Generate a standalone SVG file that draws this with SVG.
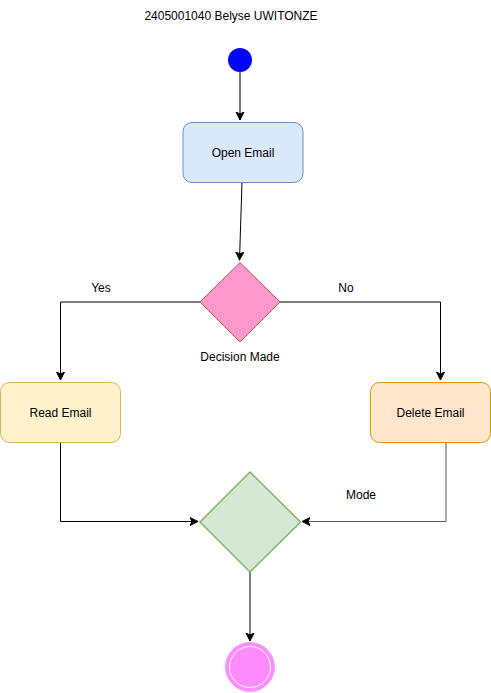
<svg xmlns="http://www.w3.org/2000/svg" width="491" height="693" viewBox="0 0 491 693">
<style>
text{font-family:"Liberation Sans",Arial,sans-serif;font-size:12px;fill:#000;}
.c{fill:none;stroke:#000;stroke-width:1;}
</style>
<defs>
<marker id="ah" markerWidth="10" markerHeight="10" refX="8" refY="5" orient="auto" markerUnits="userSpaceOnUse">
<path d="M0,1 L8,5 L0,9 L2,5 Z" fill="#000" stroke="#000" stroke-width="1"/>
</marker>
</defs>
<rect width="491" height="693" fill="#fff"/>
<g id="title"><text x="231" y="20" text-anchor="middle">2405001040 Belyse UWITONZE</text></g>
<g id="connectors">
<path class="c" d="M240,72 L240,120" marker-end="url(#ah)"/>
<path class="c" d="M242,182 L239.5,260" marker-end="url(#ah)"/>
<path class="c" d="M200,302 L60.5,302 L60.5,380" marker-end="url(#ah)"/>
<path class="c" d="M280,302 L440.5,302 L440.5,380" marker-end="url(#ah)"/>
<path class="c" d="M60.5,442 L60.5,521.5 L198,521.5" marker-end="url(#ah)"/>
<path class="c" style="stroke:#555" d="M446,442 L446,521.5 L302,521.5" marker-end="url(#ah)"/>
<path class="c" d="M250,572 L250,641" marker-end="url(#ah)"/>
<text x="101" y="292" text-anchor="middle">Yes</text>
<text x="346" y="292" text-anchor="middle">No</text>
<text x="361" y="499" text-anchor="middle">Mode</text>
</g>
<g id="start"><circle cx="240" cy="60" r="12" fill="#0000ff"/></g>
<g id="open-email">
<rect x="183" y="122.5" width="120" height="60" rx="9" fill="#dae8fc" stroke="#6c8ebf"/>
<text x="243" y="157" text-anchor="middle">Open Email</text>
</g>
<g id="decision">
<path d="M240,262.5 L280,302 L240,342 L200,302 Z" fill="#ff99cc" stroke="#b85450"/>
<text x="240" y="361" text-anchor="middle">Decision Made</text>
</g>
<g id="read-email">
<rect x="0.5" y="382.5" width="120" height="60" rx="9" fill="#fff2cc" stroke="#d6b656"/>
<text x="60.5" y="417" text-anchor="middle">Read Email</text>
</g>
<g id="delete-email">
<rect x="370.5" y="382.5" width="120" height="60" rx="9" fill="#ffe6cc" stroke="#d79b00"/>
<text x="430.5" y="417" text-anchor="middle">Delete Email</text>
</g>
<g id="merge">
<path d="M250,472 L300.5,522 L250,572 L200,522 Z" fill="#d5e8d4" stroke="#82b366" stroke-width="1.5"/>
</g>
<g id="end">
<circle cx="250" cy="667" r="24.5" fill="#ff8cff" stroke="#ff99ff"/>
<circle cx="250" cy="667" r="20.5" fill="none" stroke="#fff" stroke-width="1"/>
</g>
</svg>
